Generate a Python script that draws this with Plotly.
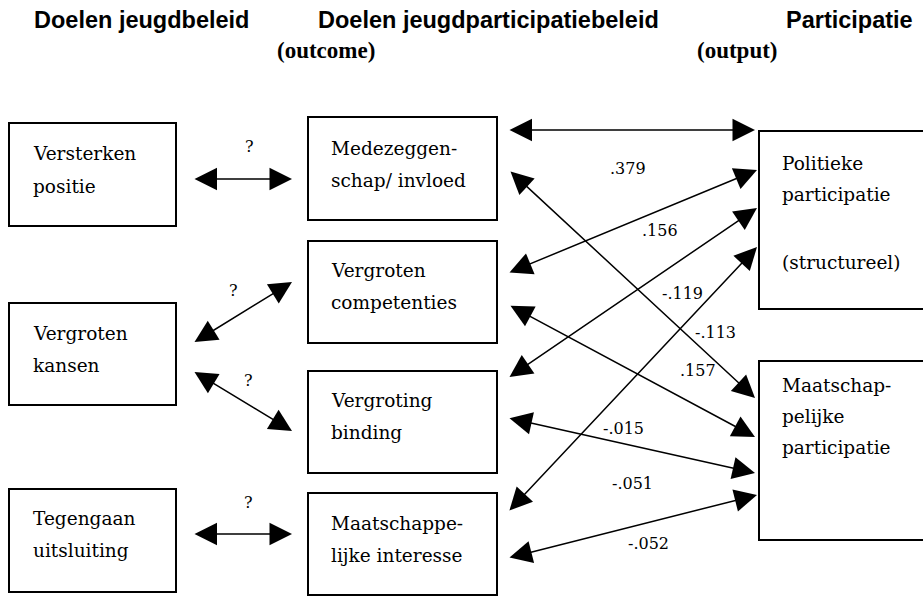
import plotly.graph_objects as go

# ---------------- data ----------------
headings = ["Doelen jeugdbeleid", "Doelen jeugdparticipatiebeleid", "Participatie"]
subheadings = ["(outcome)", "(output)"]

left_boxes = [["Versterken", "positie"], ["Vergroten", "kansen"], ["Tegengaan", "uitsluiting"]]
mid_boxes = [["Medezeggen-", "schap/ invloed"], ["Vergroten", "competenties"],
             ["Vergroting", "binding"], ["Maatschappe-", "lijke interesse"]]
right_boxes = [["Politieke", "participatie", "", "(structureel)"],
               ["Maatschap-", "pelijke", "participatie"]]

unknown_labels = ["?", "?", "?", "?"]
coef_labels = [".379", ".156", "-.119", "-.113", ".157", "-.015", "-.051", "-.052"]

# ---------------- layout geometry (pixels, y downwards) ----------------
left_x = (9, 176)
left_y = [(123, 226), (303, 405), (489, 592)]
left_text_y = [(153, 186), (333, 365), (518, 550)]

mid_x = (308, 497)
mid_y = [(117, 220), (241, 343), (371, 473), (493, 595)]
mid_text_y = [(148, 180), (270, 302), (400, 432), (523, 555)]

right_x = (759, 930)
right_y = [(131, 309), (361, 540)]
right_text_y = [(163, 194, 228, 262), (385, 416, 447)]

left_arrows = [((193, 179), (292, 179)), ((193, 343), (292, 282)),
               ((193, 371), (292, 431)), ((193, 534), (292, 534))]
mid_arrows = [((508, 130), (755, 130)), ((509, 170), (755, 398)),
              ((508, 273), (757, 170)), ((509, 305), (755, 437)),
              ((508, 378), (757, 208)), ((508, 418), (755, 473)),
              ((508, 512), (757, 247)), ((508, 558), (757, 495))]

unknown_pos = [(249, 146), (233, 290), (248, 380), (248, 502)]
coef_pos = [(628, 168), (660, 230), (682, 293), (715, 332),
            (698, 370), (623, 428), (632, 483), (648, 543)]

heading_pos = [(141, 20), (488, 20), (849, 20)]
sub_pos = [(275, 50), (695, 50)]

SERIF = "DejaVu Serif"
SERIF_B = "Liberation Serif"
SANS = "Liberation Sans"

fig = go.Figure()
fig.add_trace(go.Scatter(x=[0, 923], y=[0, 596], mode="markers",
                         marker=dict(opacity=0), hoverinfo="skip", showlegend=False))

shapes = []
annotations = []

def add_box(xr, yr):
    shapes.append(dict(type="rect", xref="x", yref="y", x0=xr[0], x1=xr[1], y0=yr[0], y1=yr[1],
                       line=dict(color="black", width=2), fillcolor="rgba(0,0,0,0)"))

def add_lines(x, ys, lines, size=18.5):
    for yy, t in zip(ys, lines):
        if t:
            annotations.append(dict(x=x, y=yy, xref="x", yref="y", text=t, showarrow=False,
                                    xanchor="left", yanchor="middle",
                                    font=dict(family=SERIF, size=size, color="black")))

for yr, ty, lines in zip(left_y, left_text_y, left_boxes):
    add_box(left_x, yr)
    add_lines(left_x[0] + 22, ty, lines)
for yr, ty, lines in zip(mid_y, mid_text_y, mid_boxes):
    add_box(mid_x, yr)
    add_lines(mid_x[0] + 21, ty, lines)
for yr, ty, lines in zip(right_y, right_text_y, right_boxes):
    add_box(right_x, yr)
    add_lines(right_x[0] + 21, ty, lines)

for (p, q) in left_arrows + mid_arrows:
    annotations.append(dict(x=q[0], y=q[1], ax=p[0], ay=p[1], xref="x", yref="y",
                            axref="x", ayref="y", text="", showarrow=True,
                            arrowhead=2, startarrowhead=2, arrowside="end+start",
                            arrowsize=3.0, startarrowsize=3.0, arrowwidth=1.5,
                            arrowcolor="black", standoff=0, startstandoff=0))

for (px, py), t in zip(unknown_pos, unknown_labels):
    annotations.append(dict(x=px, y=py, xref="x", yref="y", text=t, showarrow=False,
                            font=dict(family=SERIF, size=16, color="black")))
for (px, py), t in zip(coef_pos, coef_labels):
    annotations.append(dict(x=px, y=py, xref="x", yref="y", text=t, showarrow=False,
                            font=dict(family=SERIF, size=16, color="black")))

for (px, py), t in zip(heading_pos, headings):
    annotations.append(dict(x=px, y=py, xref="x", yref="y", text="<b>" + t + "</b>", showarrow=False,
                            font=dict(family=SANS, size=23.5, color="black")))
for (px, py), t in zip(sub_pos, subheadings):
    annotations.append(dict(x=px, y=py, xref="x", yref="y", text="<b>" + t + "</b>", showarrow=False,
                            xanchor="left",
                            font=dict(family=SERIF_B, size=23, color="black")))

fig.update_layout(
    width=923, height=596,
    margin=dict(l=0, r=0, t=0, b=0),
    paper_bgcolor="white", plot_bgcolor="white",
    font=dict(family=SERIF, color="black"),
    xaxis=dict(range=[0, 923], visible=False, fixedrange=True),
    yaxis=dict(range=[596, 0], visible=False, fixedrange=True),
    shapes=shapes, annotations=annotations,
    showlegend=False,
)

fig.write_html("out.html", config={"displayModeBar": False},
               post_script="document.body.style.margin='0';document.body.style.padding='0';")
